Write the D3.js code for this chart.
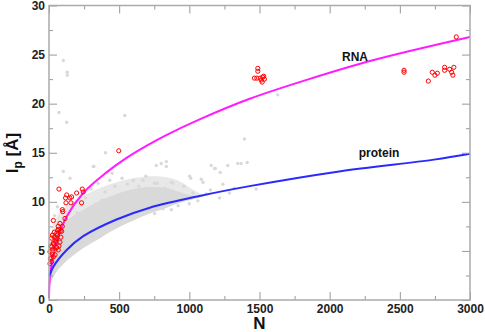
<!DOCTYPE html>
<html>
<head>
  <meta charset="UTF-8">
  <title>lp vs N</title>
  <script src="https://cdn.jsdelivr.net/npm/d3@7"></script>
  <style>
    body { margin: 0; background: #fff; }
    svg { display: block; }
    .tick text { font: bold 12px "Liberation Sans", Arial, sans-serif; fill: #222; }
    .tick line { stroke: #999; }
    .lbl { font-family: "Liberation Sans", Arial, sans-serif; font-weight: bold; fill: #111; }
  </style>
</head>
<body>
  <svg id="chart" width="485" height="332"></svg>
  <script>
    // axis ticks
    const xTicks = [0, 500, 1000, 1500, 2000, 2500, 3000];
    const yTicks = [0, 5, 10, 15, 20, 25, 30];

    // fitted curves [N, lp]
    const rnaCurve = [[0, 0.2], [3, 1.6], [8, 2.5], [15, 3.3], [30, 4.5], [60, 6.2], [126, 8.5], [244, 10.9],
      [410, 13.0], [550, 14.45], [700, 15.75], [836, 16.8], [1073, 18.4], [1430, 20.5], [1830, 22.4],
      [2300, 24.4], [3000, 26.8]];
    const proteinCurve = [[2, 2.4], [7, 2.6], [31, 3.4], [126, 5.1], [244, 6.5], [481, 8.2], [718, 9.4],
      [1073, 10.6], [1429, 11.6], [2068, 13.1], [2743, 14.3], [3000, 14.9]];

    // grey cloud (protein structures): packed core and its sparser fringe
    const cloudN    = [3, 19, 60, 126, 244, 362, 481, 600, 718, 836, 930, 1030, 1110];
    const cloudHi   = [3.6, 5.3, 7.0, 8.1, 9.2, 10.1, 10.8, 11.3, 11.5, 11.4, 11.0, 10.6, 10.6];
    const cloudLo   = [1.2, 2.0, 3.0, 4.0, 5.3, 6.3, 7.3, 8.1, 8.8, 9.4, 9.9, 10.3, 10.6];
    const fringeHi  = [5.0, 7.0, 8.6, 9.6, 10.6, 11.4, 12.0, 12.4, 12.6, 12.5, 12.1, 11.2, 10.6];

    // sparse grey points outside the packed region [N, lp]
    const greyDots = [[102, 24.4], [130, 23.2], [131, 22.9], [71, 19.1], [126, 18.1], [540, 18.8], [403, 15.0],
      [320, 13.6], [102, 13.1], [315, 13.6], [765, 13.7], [800, 13.9], [836, 14.1], [836, 13.6],
      [1156, 13.7], [1180, 13.4], [1274, 13.7], [1345, 13.9], [1412, 14.0], [1393, 16.4], [1369, 13.9],
      [1630, 20.9], [1185, 13.4], [1220, 13.0], [1002, 12.6], [1010, 12.4], [1085, 12.3], [1097, 12.0],
      [1239, 11.8], [872, 12.0], [884, 11.9], [753, 11.9], [770, 11.9], [824, 11.4], [845, 11.2],
      [908, 10.9], [790, 10.9], [741, 11.2], [836, 10.5], [1026, 10.9], [1215, 10.4], [1476, 11.3],
      [1061, 10.1], [974, 10.4], [872, 9.2], [753, 8.8], [812, 9.3], [600, 12.2], [670, 12.2],
      [718, 11.0], [1286, 10.9], [350, 11.9], [433, 12.2], [470, 11.6], [520, 12.4], [560, 11.8],
      [400, 11.0], [300, 11.3], [260, 10.4], [230, 9.6], [640, 11.6], [690, 12.6], [450, 12.9],
      [200, 8.9], [170, 8.3], [380, 10.2], [560, 10.9], [960, 11.6], [1150, 11.2], [1320, 11.4],
      [1000, 9.8], [920, 9.6], [1120, 10.8], [150, 12.4], [60, 9.5], [40, 8.6]];

    // RNA structures [N, lp]
    const rnaDots = [[71, 11.3], [126, 10.7], [118, 10.4], [149, 10.4], [161, 10.5], [121, 9.9], [156, 9.9],
      [197, 10.9], [237, 11.3], [244, 11.0], [232, 9.9], [95, 9.2], [98, 9.0], [114, 8.3], [31, 8.1],
      [78, 7.8], [66, 7.5], [62, 7.1], [55, 6.8], [38, 6.4], [19, 6.3], [55, 6.3], [48, 5.9], [31, 5.8],
      [19, 5.4], [55, 5.35], [43, 5.1], [7, 4.9], [24, 4.75], [31, 4.4], [14, 4.3], [19, 3.9], [7, 3.7],
      [43, 4.6], [66, 5.1], [71, 5.5], [78, 5.9], [85, 6.4], [90, 7.0], [95, 7.5], [38, 6.9], [24, 6.6],
      [14, 5.5], [10, 4.2], [27, 5.1], [35, 5.7], [50, 6.1], [60, 6.6], [70, 7.2], [80, 7.0], [497, 15.2],
      [1488, 23.6], [1488, 23.3], [1464, 22.6], [1481, 22.6], [1505, 22.6], [1512, 22.4], [1523, 22.7],
      [1535, 22.5], [1519, 22.2], [1530, 22.8], [2530, 23.4], [2530, 23.2], [2703, 22.3], [2731, 23.2],
      [2750, 22.9], [2767, 23.1], [2819, 23.7], [2819, 23.4], [2855, 23.5], [2885, 23.7], [2869, 23.2],
      [2878, 22.9], [2902, 26.8]];

    const mLeft = 49, mRight = 470, mTop = 5.5, mBottom = 300;

    const svg = d3.select('#chart');
    const x = d3.scaleLinear().domain([0, 3000]).range([mLeft, mRight]);
    const y = d3.scaleLinear().domain([0, 30]).range([mBottom, mTop]);

    // grey cloud
    const cloud = cloudN.map((n, i) => ({ n, lo: cloudLo[i], hi: cloudHi[i], fr: fringeHi[i] }));
    svg.append('path')
      .attr('d', d3.area().x(d => x(d.n)).y0(d => y(d.lo)).y1(d => y(d.fr)).curve(d3.curveCatmullRom)(cloud))
      .attr('fill', '#e8e8e8');
    svg.append('path')
      .attr('d', d3.area().x(d => x(d.n)).y0(d => y(d.lo)).y1(d => y(d.hi)).curve(d3.curveCatmullRom)(cloud))
      .attr('fill', '#d9d9d9');

    svg.append('g').selectAll('circle').data(greyDots).join('circle')
      .attr('cx', d => x(d[0])).attr('cy', d => y(d[1]))
      .attr('r', 1.7).attr('fill', '#d9d9d9');

    // curves
    const line = d3.line().x(d => x(d[0])).y(d => y(d[1])).curve(d3.curveCatmullRom);
    svg.append('path').attr('d', line(rnaCurve))
      .attr('fill', 'none').attr('stroke', '#ff1cff').attr('stroke-width', 2);
    svg.append('path').attr('d', line(proteinCurve))
      .attr('fill', 'none').attr('stroke', '#2a2aff').attr('stroke-width', 2);

    // RNA points
    svg.append('g').selectAll('circle').data(rnaDots).join('circle')
      .attr('cx', d => x(d[0])).attr('cy', d => y(d[1]))
      .attr('r', 2.1).attr('fill', 'none').attr('stroke', '#f00').attr('stroke-width', 1);

    // curve labels
    svg.append('text').attr('class', 'lbl').attr('x', 355).attr('y', 61)
      .attr('text-anchor', 'middle').attr('font-size', 12).text('RNA');
    svg.append('text').attr('class', 'lbl').attr('x', 379).attr('y', 157)
      .attr('text-anchor', 'middle').attr('font-size', 12).text('protein');

    // axes: ticks point inward on all four sides
    const minorX = d3.range(250, 3000, 500);
    const minorY = d3.range(2.5, 30, 5);
    function axes(g, gen, major, minor, labels) {
      g.call(gen(major).tickSizeInner(labels ? -8 : 8).tickSizeOuter(0).tickPadding(4)
        .tickFormat(labels ? d3.format('d') : ''));
      g.select('.domain').remove();
      g.append('g').call(gen(minor).tickSizeInner(labels ? -4 : 4).tickSizeOuter(0).tickFormat(''))
        .select('.domain').remove();
    }
    svg.append('g').attr('transform', `translate(0,${mBottom})`)
      .call(g => axes(g, v => d3.axisBottom(x).tickValues(v), xTicks, minorX, true));
    svg.append('g').attr('transform', `translate(0,${mTop})`)
      .call(g => axes(g, v => d3.axisBottom(x).tickValues(v), xTicks, minorX, false));
    svg.append('g').attr('transform', `translate(${mLeft},0)`)
      .call(g => axes(g, v => d3.axisLeft(y).tickValues(v), yTicks, minorY, true));
    svg.append('g').attr('transform', `translate(${mRight},0)`)
      .call(g => axes(g, v => d3.axisLeft(y).tickValues(v), yTicks, minorY, false));
    svg.selectAll('.tick line').attr('stroke', '#999');

    svg.append('rect')
      .attr('x', mLeft).attr('y', mTop).attr('width', mRight - mLeft).attr('height', mBottom - mTop)
      .attr('fill', 'none').attr('stroke', '#aaa').attr('stroke-width', 1.5);

    // axis titles
    svg.append('text').attr('class', 'lbl').attr('x', (mLeft + mRight) / 2).attr('y', 329)
      .attr('text-anchor', 'middle').attr('font-size', 17).text('N');
    const yl = svg.append('text').attr('class', 'lbl')
      .attr('transform', 'translate(18,153) rotate(-90)')
      .attr('text-anchor', 'middle').attr('font-size', 17);
    yl.append('tspan').text('l');
    yl.append('tspan').attr('font-size', 12).attr('dy', 4).text('p');
    yl.append('tspan').attr('dy', -4).text(' [Å]');
  </script>
</body>
</html>
